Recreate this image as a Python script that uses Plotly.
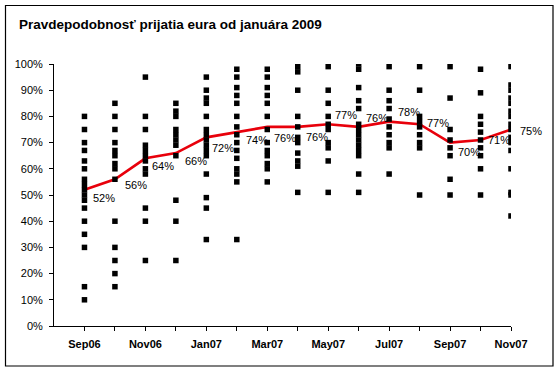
import plotly.graph_objects as go

# ---- data ----
months = ["Sep06", "Oct06", "Nov06", "Dec06", "Jan07", "Feb07", "Mar07", "Apr07",
          "May07", "Jun07", "Jul07", "Aug07", "Sep07", "Oct07", "Nov07"]
tick_labels = ["Sep06", "", "Nov06", "", "Jan07", "", "Mar07", "", "May07", "",
               "Jul07", "", "Sep07", "", "Nov07"]
y_ticks = [0, 10, 20, 30, 40, 50, 60, 70, 80, 90, 100]
y_tick_labels = ["0%", "10%", "20%", "30%", "40%", "50%", "60%", "70%", "80%", "90%", "100%"]
average = [52, 56, 64, 66, 72, 74, 76, 76, 77, 76, 78, 77, 70, 71, 75]

resp_sep06 = [80, 75, 70, 67, 63, 60, 56, 54, 52, 50, 48, 45, 40, 35, 30, 15, 10]
resp_oct06 = [85, 80, 75, 70, 67, 65, 62, 60, 56, 40, 30, 25, 20, 15]
resp_nov06 = [95, 80, 75, 69, 67, 65, 63, 60, 58, 45, 40, 25]
resp_dec06 = [85, 82, 80, 75, 73, 71, 69, 65, 48, 40, 25]
resp_jan07 = [95, 90, 87, 85, 80, 75, 73, 71, 69, 67, 65, 58, 49, 45, 33]
resp_feb07 = [98, 95, 91, 88, 85, 80, 76, 73, 70, 67, 64, 60, 58, 55, 33]
resp_mar07 = [98, 95, 91, 88, 85, 80, 75, 70, 67, 65, 62, 60, 55]
resp_apr07 = [99, 97, 90, 80, 76, 72, 70, 66, 63, 61, 51]
resp_may07 = [99, 90, 85, 80, 77, 75, 70, 68, 63, 51]
resp_jun07 = [100, 98, 91, 86, 83, 77, 75, 73, 71, 69, 67, 65, 58, 51]
resp_jul07 = [99, 90, 86, 83, 79, 76, 73, 70, 68, 58]
resp_aug07 = [99, 90, 80, 78, 76, 73, 70, 68, 50]
resp_sep07 = [99, 87, 75, 71, 68, 65, 56, 50]
resp_oct07 = [98, 89, 80, 77, 74, 71, 68, 65, 60, 50]
resp_nov07 = [99, 92, 90, 87, 85, 82, 80, 77, 75, 72, 70, 67, 60, 51, 50, 42]

responses = [resp_sep06, resp_oct06, resp_nov06, resp_dec06, resp_jan07, resp_feb07,
             resp_mar07, resp_apr07, resp_may07, resp_jun07, resp_jul07, resp_aug07,
             resp_sep07, resp_oct07, resp_nov07]

title_text = "Pravdepodobnosť prijatia eura od januára 2009"

# ---- style: label offsets (pixels) ----
label_dx = [20, 21, 18, 20, 17, 20, 18, 19, 18, 18, 20, 18, 19, 18, 20]
label_dy = [-8, -6, -8, -8, -11, -8, -11, -10, 9, 9, 10, 1, -9, 0, -1]

FONT = "Liberation Sans, Arial, sans-serif"
L, R, T, B = 54, 511, 64, 326
W, H = 559, 372


def px_x(p):
    return (p - L) / (R - L)


def px_y(p):
    return (B - p) / (B - T)


scatter_x, scatter_y = [], []
for m, vals in zip(months, responses):
    for v in vals:
        scatter_x.append(m)
        scatter_y.append(v)

fig = go.Figure()
fig.add_trace(go.Scatter(
    x=months, y=average, mode="lines",
    line=dict(color="#e8000b", width=2.6),
    hoverinfo="skip", showlegend=False,
))
fig.add_trace(go.Scatter(
    x=scatter_x, y=scatter_y, mode="markers",
    marker=dict(symbol="square", size=5.5, color="black", line=dict(width=0)),
    showlegend=False,
))

annotations = []
for m, v, dx, dy in zip(months, average, label_dx, label_dy):
    annotations.append(dict(
        x=m, y=v, xref="x", yref="y", text=f"{v}%", showarrow=False,
        xanchor="center", yanchor="middle", xshift=dx, yshift=dy,
        font=dict(family=FONT, size=11, color="black"),
    ))
annotations.append(dict(
    x=px_x(18), y=px_y(25), xref="paper", yref="paper", text=title_text,
    showarrow=False, xanchor="left", yanchor="middle", borderpad=0,
    font=dict(family=FONT, size=13.5, color="black", weight="bold"),
))

fig.update_layout(
    width=W, height=H,
    margin=dict(l=L, r=W - R, t=T, b=H - B, pad=0, autoexpand=False),
    paper_bgcolor="white", plot_bgcolor="white",
    annotations=annotations,
    shapes=[dict(type="rect", xref="paper", yref="paper",
                 x0=px_x(5.5), x1=px_x(553), y0=px_y(366), y1=px_y(5.5),
                 line=dict(color="black", width=1.2), layer="below")],
    xaxis=dict(
        type="category", categoryorder="array", categoryarray=months,
        range=[-1, 14], tickvals=months, ticktext=tick_labels,
        showline=True, linecolor="black", linewidth=1,
        ticks="outside", ticklen=4, tickcolor="black", tickwidth=1,
        showgrid=False, zeroline=False, ticklabelstandoff=4, automargin=False,
        tickfont=dict(family=FONT, size=11, color="black", weight="bold"),
    ),
    yaxis=dict(
        range=[0, 100], tickmode="array", tickvals=y_ticks, ticktext=y_tick_labels,
        showline=True, linecolor="black", linewidth=1,
        ticks="outside", ticklen=4, tickcolor="black", tickwidth=1,
        showgrid=False, zeroline=False, ticklabelstandoff=4, automargin=False,
        tickfont=dict(family=FONT, size=11, color="black"),
    ),
)

fig.write_html("out.html", config={"displayModeBar": False},
               post_script="document.body.style.margin='0px';")
